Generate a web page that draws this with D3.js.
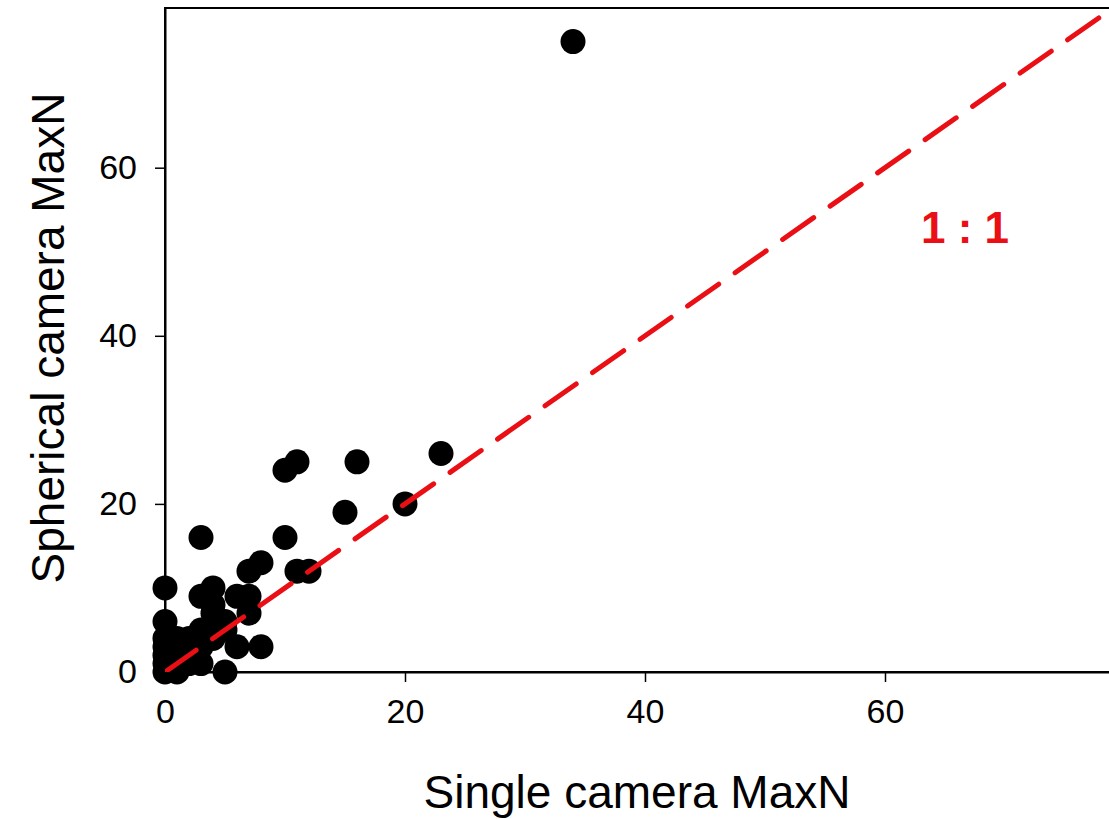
<!DOCTYPE html>
<html>
<head>
<meta charset="utf-8">
<title>Single vs spherical camera MaxN</title>
<style>
  body { margin: 0; background: #fff; overflow: hidden; }
  svg { display: block; font-family: "Liberation Sans", Arial, sans-serif; }
</style>
</head>
<body>
<script src="https://cdn.jsdelivr.net/npm/d3@7"></script>
<script>

// MaxN: single camera (x) and spherical camera (y)
var singleMaxN    = [34, 23, 16, 11, 10, 20, 15, 10, 3, 8, 7, 11, 12, 0, 4, 3, 6, 7, 4, 7, 4, 5, 5, 0, 3, 6, 8, 5, 1, 3,
                     0, 0, 0, 0, 1, 1, 1, 1, 2, 2, 2, 3, 2, 4, 4, 0];
var sphericalMaxN = [75, 26, 25, 25, 24, 20, 19, 16, 16, 13, 12, 12, 12, 10, 10, 9, 9, 9, 8, 7, 7, 6, 5, 6, 5, 3, 3, 0, 0, 1,
                     4, 3, 2, 1, 1, 2, 3, 4, 2, 3, 1, 3, 4, 5, 4, 0];
var xTicks = [0, 20, 40, 60];
var yTicks = [0, 20, 40, 60];

var width  = 1109;
var height = 819;

var svg = d3.select("body").append("svg")
    .attr("width", width)
    .attr("height", height);

// plot box (right edge falls just outside the picture)
var box = { left: 165, right: 1125, top: 8, bottom: 672 };

var x = d3.scaleLinear().domain([0, 80]).range([box.left, box.right]);
var y = d3.scaleLinear().domain([0, 79]).range([box.bottom, box.top]);

// frame
svg.append("rect")
    .attr("x", box.left).attr("y", box.top)
    .attr("width", box.right - box.left).attr("height", box.bottom - box.top)
    .attr("fill", "none").attr("stroke", "#000").attr("stroke-width", 2);

// axes
var xAxis = svg.append("g")
    .attr("transform", "translate(0," + box.bottom + ")")
    .call(d3.axisBottom(x).tickValues(xTicks).tickSize(10).tickSizeOuter(0).tickPadding(17));

var yAxis = svg.append("g")
    .attr("transform", "translate(" + box.left + ",0)")
    .call(d3.axisLeft(y).tickValues(yTicks).tickSize(10).tickSizeOuter(0).tickPadding(18));

[xAxis, yAxis].forEach(function(g){
    g.select(".domain").attr("stroke-width", 2);
    g.selectAll(".tick line").attr("stroke-width", 1.5);
    g.selectAll(".tick text")
        .attr("font-size", "34px")
        .attr("font-family", "'Liberation Sans', Arial, sans-serif")
        .attr("fill", "#000");
});

// points
var points = singleMaxN.map(function(d, i){ return { s: d, p: sphericalMaxN[i] }; });

svg.append("g").selectAll("circle")
    .data(points)
    .enter().append("circle")
    .attr("cx", function(d){ return x(d.s); })
    .attr("cy", function(d){ return y(d.p); })
    .attr("r", 12.5)
    .attr("fill", "#000");

// 1:1 line, clipped to the plot box
svg.append("clipPath").attr("id", "plotclip")
  .append("rect")
    .attr("x", box.left).attr("y", box.top)
    .attr("width", box.right - box.left).attr("height", box.bottom - box.top);

svg.append("line")
    .attr("clip-path", "url(#plotclip)")
    .attr("x1", x(0)).attr("y1", y(0))
    .attr("x2", x(80)).attr("y2", y(80))
    .attr("stroke", "#ea0f14")
    .attr("stroke-width", 5)
    .attr("stroke-linecap", "round")
    .attr("stroke-dasharray", "38,20");

svg.append("text")
    .attr("x", 965).attr("y", 243)
    .attr("text-anchor", "middle")
    .attr("font-size", "44px")
    .attr("font-weight", "bold")
    .attr("fill", "#ea0f14")
    .text("1 : 1");

// axis titles
svg.append("text")
    .attr("x", 637).attr("y", 808)
    .attr("text-anchor", "middle")
    .attr("font-size", "46px")
    .text("Single camera MaxN");

svg.append("text")
    .attr("transform", "translate(64,338) rotate(-90)")
    .attr("text-anchor", "middle")
    .attr("font-size", "46px")
    .text("Spherical camera MaxN");

</script>
</body>
</html>
